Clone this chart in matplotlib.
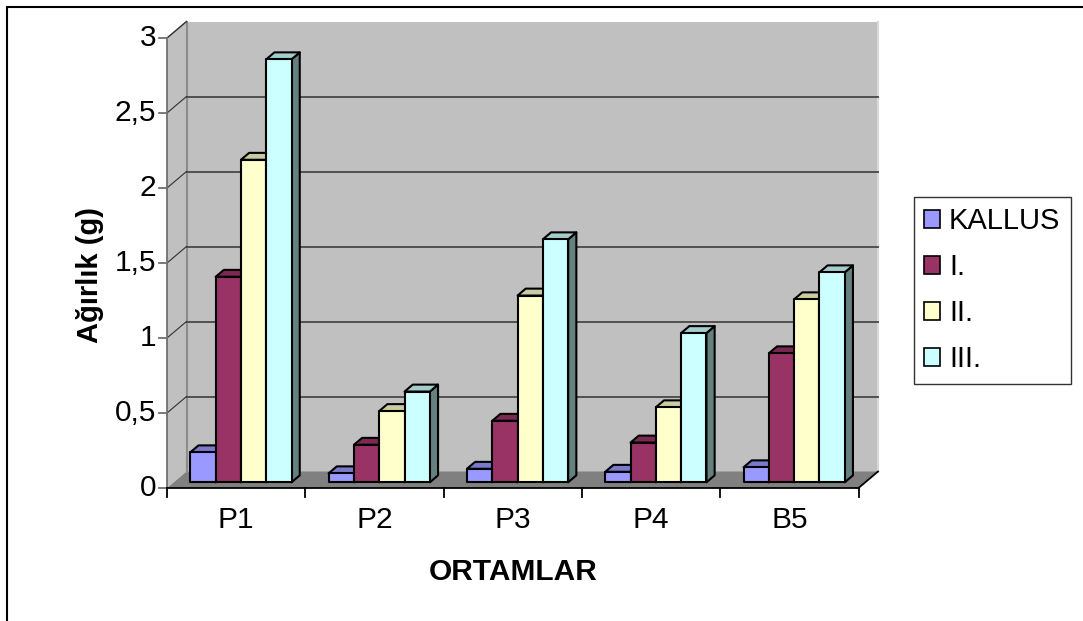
import matplotlib
matplotlib.use("Agg")
import matplotlib.pyplot as plt
from matplotlib.patches import Polygon, Rectangle, Patch
import numpy as np

plt.rcParams['font.family'] = ['Liberation Sans', 'DejaVu Sans']

categories = ["P1", "P2", "P3", "P4", "B5"]
series = ["KALLUS", "I.", "II.", "III."]
kallus = [0.20, 0.06, 0.09, 0.07, 0.10]
first = [1.37, 0.25, 0.41, 0.265, 0.86]
second = [2.15, 0.475, 1.245, 0.50, 1.22]
third = [2.82, 0.605, 1.62, 0.995, 1.40]
yticks = [0, 0.5, 1, 1.5, 2, 2.5, 3]
ytick_labels = ["0", "0,5", "1", "1,5", "2", "2,5", "3"]

front_colors = ["#9999FF", "#993366", "#FFFFCC", "#CCFFFF"]

# pixel scale of the plot box (category width / one unit of weight)
PX_X = 138.3
PX_Y = 150.0
# oblique depth of the floor
DX = 19.5 / PX_X
DY = 16.5 / PX_Y
# where the bars sit inside the depth, and their size
D0, D1 = 0.345, 0.765
BAR_W = 0.183
GROUP_OFF = 0.12


def shade(c, f):
    r, g, b = matplotlib.colors.to_rgb(c)
    return (r * f, g * f, b * f)


fig = plt.figure(figsize=(10.83, 6.21), dpi=100)
ax = fig.add_axes([0, 0, 1, 1])
ax.set_xlim(-167 / PX_X, (1083 - 167) / PX_X)
ax.set_ylim(-(621 - 488) / PX_Y, 488 / PX_Y)
ax.axis("off")

n = len(categories)
top = yticks[-1]

# walls and floor
ax.add_patch(Polygon([(DX, DY), (n + DX, DY), (n + DX, top + DY), (DX, top + DY)],
                     closed=True, facecolor="#C0C0C0", edgecolor="none", zorder=1))
ax.add_patch(Polygon([(0, 0), (DX, DY), (DX, top + DY), (0, top)],
                     closed=True, facecolor="#C0C0C0", edgecolor="none", zorder=1))
ax.add_patch(Polygon([(0, 0), (n, 0), (n + DX, DY), (DX, DY)],
                     closed=True, facecolor="#808080", edgecolor="none", zorder=2))
ax.plot([DX, DX], [DY, top + DY], color="#8c8c8c", lw=1.5, zorder=2)
ax.plot([n + DX, n + DX], [DY, top + DY], color="#d8d8d8", lw=1.5, zorder=2)
ax.plot([0, DX], [top, top + DY], color="#6a6a6a", lw=1, zorder=2)

# gridlines on back wall, slanted ticks on the side wall
for v in yticks[1:-1]:
    ax.plot([DX, n + DX], [v + DY, v + DY], color="#505050", lw=1.4, zorder=2)
for v in yticks[1:]:
    ax.plot([0, DX], [v, v + DY], color="#303030", lw=0.8, zorder=2)

# axes lines and ticks
ax.plot([0, 0], [0, top], color="#707070", lw=1.3, zorder=3)
for v, lab in zip(yticks, ytick_labels):
    ax.plot([-8 / PX_X, 0], [v, v], color="#707070", lw=1.3, zorder=3)
    ax.text(-11 / PX_X, v, lab, ha="right", va="center", fontsize=21.5)
ax.plot([0, n], [0, 0], color="black", lw=1.3, zorder=3)
ax.plot([n, n + DX], [0, DY], color="black", lw=1.3, zorder=3)
for i in range(n + 1):
    ax.plot([i, i], [0, -9 / PX_Y], color="black", lw=1.3, zorder=3)
for i, c in enumerate(categories):
    ax.text(i + 0.5, -32 / PX_Y, c, ha="center", va="center", fontsize=21.5)

# 3D-looking bars
values = [kallus, first, second, third]
z = 5
for i in range(n):
    for j, vals in enumerate(values):
        v = vals[i]
        x0 = i + GROUP_OFF + j * BAR_W
        x1 = x0 + BAR_W
        fc = front_colors[j]
        side = [(x1 + D0 * DX, D0 * DY), (x1 + D1 * DX, D1 * DY),
                (x1 + D1 * DX, v + D1 * DY), (x1 + D0 * DX, v + D0 * DY)]
        topf = [(x0 + D0 * DX, v + D0 * DY), (x1 + D0 * DX, v + D0 * DY),
                (x1 + D1 * DX, v + D1 * DY), (x0 + D1 * DX, v + D1 * DY)]
        ax.add_patch(Polygon(side, closed=True, facecolor=shade(fc, 0.5),
                             edgecolor="black", lw=1.5, joinstyle="round", zorder=z))
        ax.add_patch(Polygon(topf, closed=True, facecolor=shade(fc, 0.8),
                             edgecolor="black", lw=1.5, joinstyle="round", zorder=z))
        ax.add_patch(Rectangle((x0 + D0 * DX, D0 * DY), BAR_W, v, facecolor=fc,
                               edgecolor="black", lw=1.5, joinstyle="round", zorder=z + 1))
        z += 2

ax.text(2.502, -84 / PX_Y, "ORTAMLAR", ha="center", va="center",
        fontsize=21.5, fontweight="bold")
ax.text(-77 / PX_X, 213 / PX_Y, "Ağırlık (g)", ha="center", va="center",
        fontsize=21, fontweight="bold", rotation=90)

handles = [Patch(facecolor=c, edgecolor="black", lw=1.2) for c in front_colors]
leg = fig.legend(handles, series, loc="upper left", bbox_to_anchor=(0.844, 0.683),
                 fontsize=21, frameon=True, fancybox=False, borderaxespad=0,
                 handlelength=0.55, handleheight=0.55, handletextpad=0.3,
                 labelspacing=0.62, borderpad=0.35)
leg.get_frame().set_edgecolor("black")
leg.get_frame().set_linewidth(1.0)

# chart area border
fig.patches.append(Rectangle((7 / 1083, -0.1), 1.2, 1 - 7 / 621 + 0.1,
                             transform=fig.transFigure, fill=False,
                             edgecolor="black", lw=1.5))

fig.savefig("out.png", dpi=100)
